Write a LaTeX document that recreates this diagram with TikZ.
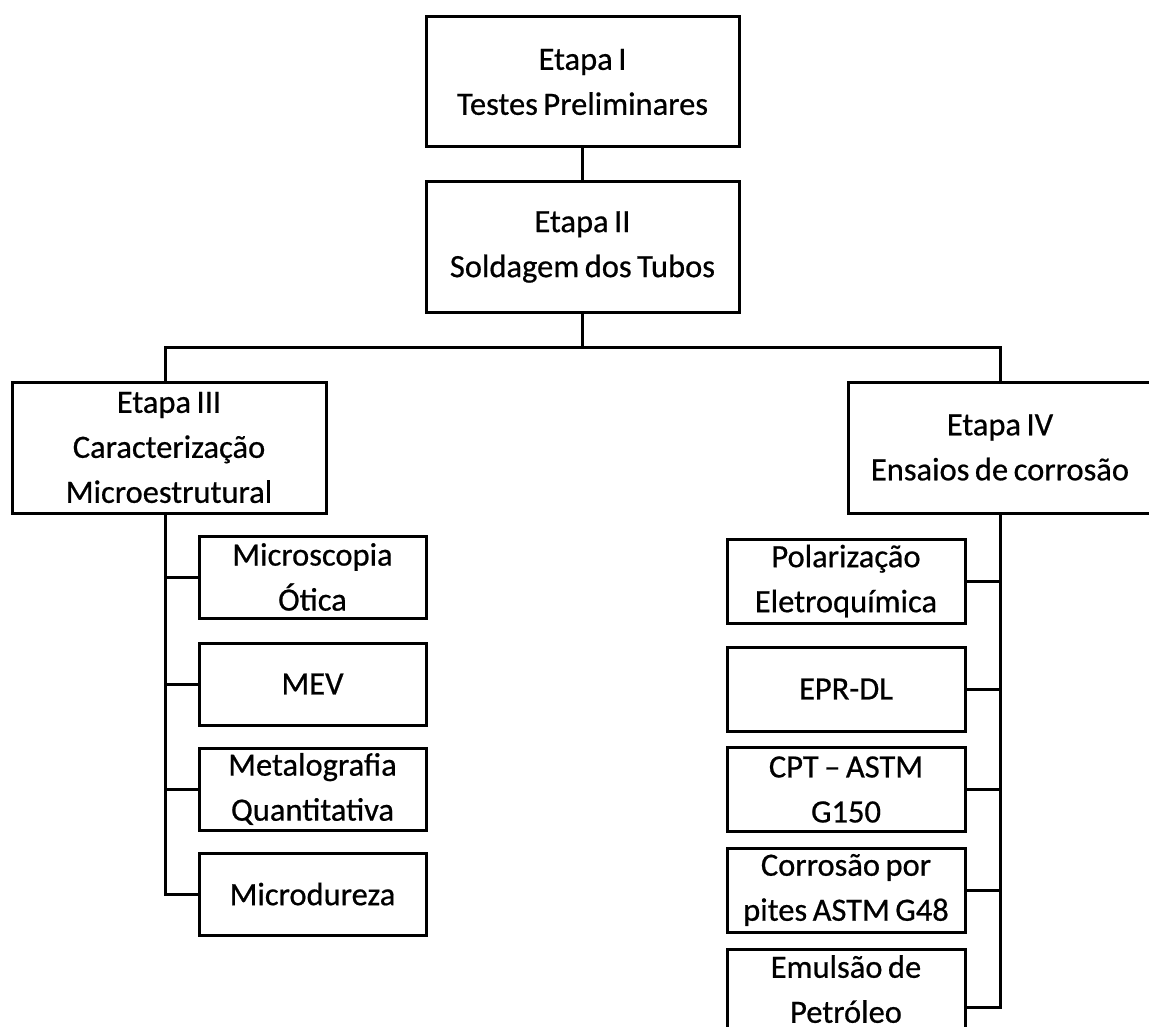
\documentclass[tikz,border=0pt]{standalone}
\usepackage{fontspec}
\setmainfont{Carlito}[FakeBold=0.6]
\newcommand\boxfont{\fontsize{32.5}{45}\selectfont\spaceskip=0.17em plus 0.05em\relax}
\begin{document}
\begin{tikzpicture}[x=1pt,y=-1pt,
  label text/.style={font=\boxfont},
  box/.style={draw=black, line width=3pt, fill=white, align=center,
    inner sep=0pt, label text},
  stage/.style={box, minimum width=313, minimum height=130},
  leftsub/.style={box, minimum width=227, minimum height=82},
  rightsub/.style={box, minimum width=238, minimum height=84},
  wire/.style={draw=black, line width=3pt, line join=miter},
]
\useasboundingbox (0,0) rectangle (1149,1027);
\clip (0,0) rectangle (1149,1027);
\fill[white] (0,0) rectangle (1149,1027);

% main stages
\node[stage] (e1) at (582.5,82)  {Etapa I\\Testes Preliminares};
\node[stage] (e2) at (582.5,247) {Etapa II\\Soldagem dos Tubos};
\node[box, minimum width=314, minimum height=131] (e3) at (169,447.5)
  {Etapa III\\Caracterização\\Microestrutural};
\node[box, minimum width=304, minimum height=131] (e4) at (1000,447.5)
  {Etapa IV\\Ensaios de corrosão};

% characterisation branch
\node[leftsub] (m1) at (312.5,577) {Microscopia\\Ótica};
\node[leftsub] (m2) at (312.5,684) {MEV};
\node[leftsub] (m3) at (312.5,789) {Metalografia\\Quantitativa};
\node[leftsub] (m4) at (312.5,894) {Microdureza};

% corrosion branch
\node[rightsub] (c1) at (846,581)   {Polarização\\Eletroquímica};
\node[rightsub] (c2) at (846,689)   {EPR-DL};
\node[rightsub] (c3) at (846,789.5) {CPT – ASTM\\G150};
\node[rightsub] (c4) at (846,890)   {Corrosão por\\pites ASTM G48};
\node[box, minimum width=238, minimum height=116, anchor=north] (c5) at (846,948) {};
\node[anchor=north, align=center, inner sep=0pt, label text]
  (c5text) at ([yshift=-7pt]c5.north) {Emulsão de\\Petróleo};

% connectors
\coordinate (busL) at (165,347);
\coordinate (busR) at (1000,347);
\coordinate (busM) at (e2.south |- busL);
\draw[wire] (e1.south) -- (e2.north);
\draw[wire] (e2.south) -- (busM);
\draw[wire] (busL |- e3.north) -- (busL) -- (busR) -- (e4.north);

\draw[wire] (busL |- e3.south) -- (busL |- m4.west) -- (m4.west);
\foreach \n in {m1,m2,m3}
  \draw[wire] (busL |- \n.west) -- (\n.west);

\draw[wire] (e4.south) -- (e4.south |- c5.east) -- (c5.east);
\foreach \n in {c1,c2,c3,c4}
  \draw[wire] (e4.south |- \n.east) -- (\n.east);
\end{tikzpicture}
\end{document}
